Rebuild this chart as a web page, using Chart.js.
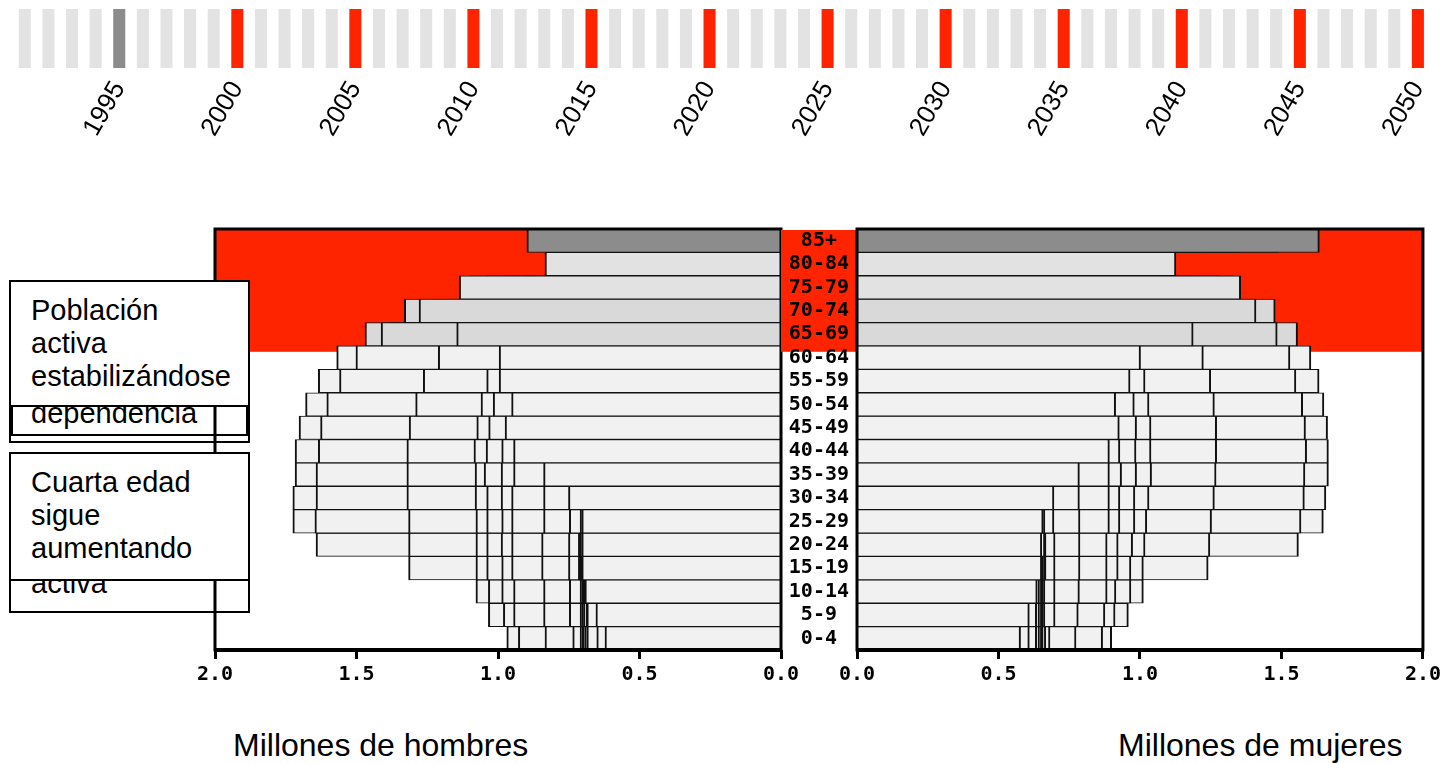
<!DOCTYPE html>
<html>
<head>
<meta charset="utf-8">
<title>Pirámide de población 2000-2050</title>
<script src="https://cdn.jsdelivr.net/npm/chart.js@4"></script>
<style>
  body { margin: 0; width: 1445px; height: 763px; overflow: hidden; background: #fff;
         font-family: 'Liberation Sans', Arial, sans-serif; position: relative; }
  canvas { position: absolute; z-index: 2; }
  .box { position: absolute; box-sizing: border-box; border: 2px solid #000; background: #fff;
         font-size: 29px; line-height: 33px; padding: 12px 8px 0 20px; color: #000; }
  .front { z-index: 3; }
  .back { z-index: 1; }
  .clear { background: transparent; }
  .axisname { position: absolute; font-size: 32px; line-height: 36px; top: 727px; color: #000; }
</style>
</head>
<body>
<canvas id="timeline" width="1445" height="150" style="left:0;top:0"></canvas>
<canvas id="men" width="631" height="471" style="left:175px;top:219px"></canvas>
<canvas id="women" width="664" height="471" style="left:781px;top:219px"></canvas>

<div class="box back" style="left:9px;top:280px;width:241px;height:163px;padding-top:115px">dependencia</div>
<div class="box back clear" style="left:11px;top:282px;width:237px;height:154px"></div>
<div class="box front" style="left:9px;top:280px;width:241px;height:127px">Población<br>activa<br>estabilizándose</div>

<div class="box back" style="left:9px;top:452px;width:241px;height:161px;padding-top:113px">activa</div>
<div class="box front" style="left:9px;top:452px;width:241px;height:129px">Cuarta edad<br>sigue<br>aumentando</div>

<div class="axisname" style="left:233px">Millones de hombres</div>
<div class="axisname" style="left:1118px">Millones de mujeres</div>

<script>
// age groups, bottom to top
const ageGroups = ['0-4', '5-9', '10-14', '15-19', '20-24', '25-29', '30-34', '35-39', '40-44',
                   '45-49', '50-54', '55-59', '60-64', '65-69', '70-74', '75-79', '80-84', '85+'];
const years = [2000, 2005, 2010, 2015, 2020, 2025, 2030, 2035, 2040, 2045, 2050];
const xTicks = [0, 0.5, 1, 1.5, 2];

// millones de hombres por grupo de edad
const men2000 = [0.969, 1.034, 1.078, 1.316, 1.643, 1.725, 1.620, 1.530, 1.420, 1.300, 1.250, 1.050, 1.020, 0.950, 0.820, 0.550, 0.330, 0.190];
const men2005 = [0.928, 0.981, 1.034, 1.078, 1.316, 1.647, 1.725, 1.600, 1.520, 1.400, 1.280, 1.220, 1.000, 0.930, 0.840, 0.680, 0.400, 0.250];
const men2010 = [0.834, 0.945, 0.987, 1.040, 1.078, 1.316, 1.643, 1.717, 1.600, 1.500, 1.380, 1.250, 1.170, 0.920, 0.820, 0.710, 0.490, 0.320];
const men2015 = [0.736, 0.839, 0.945, 0.987, 1.040, 1.078, 1.322, 1.643, 1.717, 1.580, 1.470, 1.350, 1.210, 1.100, 0.820, 0.710, 0.520, 0.380];
const men2020 = [0.710, 0.748, 0.839, 0.952, 0.989, 1.040, 1.081, 1.322, 1.635, 1.703, 1.550, 1.440, 1.310, 1.140, 0.980, 0.720, 0.530, 0.440];
const men2025 = [0.702, 0.710, 0.748, 0.846, 0.952, 0.987, 1.040, 1.081, 1.322, 1.627, 1.680, 1.520, 1.400, 1.230, 1.020, 0.860, 0.550, 0.500];
const men2030 = [0.700, 0.704, 0.710, 0.751, 0.846, 0.952, 0.989, 1.049, 1.085, 1.314, 1.605, 1.635, 1.470, 1.300, 1.100, 0.910, 0.660, 0.560];
const men2035 = [0.693, 0.698, 0.704, 0.716, 0.751, 0.839, 0.952, 0.989, 1.042, 1.075, 1.291, 1.560, 1.570, 1.380, 1.170, 0.980, 0.710, 0.650];
const men2040 = [0.686, 0.689, 0.700, 0.710, 0.716, 0.748, 0.839, 0.945, 0.987, 1.033, 1.060, 1.264, 1.502, 1.470, 1.240, 1.040, 0.760, 0.740];
const men2045 = [0.651, 0.686, 0.696, 0.706, 0.710, 0.710, 0.745, 0.835, 0.940, 0.970, 1.017, 1.040, 1.211, 1.413, 1.331, 1.100, 0.800, 0.820];
const men2050 = [0.622, 0.654, 0.693, 0.704, 0.704, 0.704, 0.751, 0.839, 0.945, 0.975, 0.952, 0.996, 0.996, 1.146, 1.279, 1.137, 0.834, 0.898];

// millones de mujeres por grupo de edad
const women2000 = [0.900, 0.959, 1.012, 1.241, 1.560, 1.648, 1.560, 1.500, 1.400, 1.300, 1.280, 1.100, 1.100, 1.080, 1.000, 0.780, 0.570, 0.450];
const women2005 = [0.868, 0.912, 0.968, 1.012, 1.247, 1.569, 1.657, 1.580, 1.500, 1.400, 1.300, 1.270, 1.080, 1.030, 1.000, 0.900, 0.660, 0.550];
const women2010 = [0.774, 0.876, 0.915, 0.968, 1.018, 1.253, 1.581, 1.666, 1.560, 1.490, 1.400, 1.290, 1.240, 1.020, 0.990, 0.930, 0.750, 0.680];
const women2015 = [0.682, 0.782, 0.884, 0.923, 0.974, 1.024, 1.263, 1.583, 1.666, 1.560, 1.490, 1.390, 1.270, 1.200, 0.980, 0.930, 0.800, 0.800];
const women2020 = [0.667, 0.700, 0.786, 0.884, 0.923, 0.982, 1.032, 1.269, 1.589, 1.663, 1.570, 1.480, 1.370, 1.240, 1.130, 0.930, 0.820, 0.920];
const women2025 = [0.658, 0.664, 0.700, 0.788, 0.884, 0.929, 0.982, 1.041, 1.271, 1.585, 1.650, 1.560, 1.460, 1.330, 1.180, 1.080, 0.830, 1.020];
const women2030 = [0.653, 0.658, 0.664, 0.700, 0.788, 0.892, 0.929, 0.988, 1.039, 1.271, 1.575, 1.633, 1.540, 1.410, 1.270, 1.140, 0.960, 1.100];
const women2035 = [0.645, 0.653, 0.658, 0.668, 0.700, 0.788, 0.892, 0.935, 0.986, 1.039, 1.263, 1.551, 1.604, 1.480, 1.340, 1.210, 1.020, 1.220];
const women2040 = [0.635, 0.645, 0.653, 0.664, 0.668, 0.696, 0.786, 0.892, 0.929, 0.988, 1.032, 1.250, 1.530, 1.557, 1.400, 1.280, 1.070, 1.350];
const women2045 = [0.609, 0.635, 0.645, 0.658, 0.664, 0.664, 0.690, 0.780, 0.885, 0.920, 0.980, 1.018, 1.224, 1.485, 1.478, 1.330, 1.100, 1.490];
const women2050 = [0.578, 0.609, 0.637, 0.653, 0.653, 0.658, 0.696, 0.786, 0.892, 0.927, 0.914, 0.965, 1.002, 1.188, 1.410, 1.356, 1.127, 1.634];

const menSeries = [men2000, men2005, men2010, men2015, men2020, men2025, men2030, men2035, men2040, men2045, men2050];
const womenSeries = [women2000, women2005, women2010, women2015, women2020, women2025, women2030, women2035, women2040, women2045, women2050];

// timeline at the top
const timelineYears = [1991, 1992, 1993, 1994, 1995, 1996, 1997, 1998, 1999, 2000,
                       2001, 2002, 2003, 2004, 2005, 2006, 2007, 2008, 2009, 2010,
                       2011, 2012, 2013, 2014, 2015, 2016, 2017, 2018, 2019, 2020,
                       2021, 2022, 2023, 2024, 2025, 2026, 2027, 2028, 2029, 2030,
                       2031, 2032, 2033, 2034, 2035, 2036, 2037, 2038, 2039, 2040,
                       2041, 2042, 2043, 2044, 2045, 2046, 2047, 2048, 2049, 2050];
const timelineValues = [1, 1, 1, 1, 1, 1, 1, 1, 1, 1, 1, 1, 1, 1, 1, 1, 1, 1, 1, 1,
                        1, 1, 1, 1, 1, 1, 1, 1, 1, 1, 1, 1, 1, 1, 1, 1, 1, 1, 1, 1,
                        1, 1, 1, 1, 1, 1, 1, 1, 1, 1, 1, 1, 1, 1, 1, 1, 1, 1, 1, 1];
const timelineShown = [2000, 2005, 2010, 2015, 2020, 2025, 2030, 2035, 2040, 2045, 2050];
const timelineStart = 1995;

const RED = '#ff2400';
const tickFont = { family: 'DejaVu Sans Mono', weight: 'bold', size: 20 };

function rowFill(i) {
  if (i === 17) return '#8c8c8c';
  if (i >= 15) return '#e2e2e2';
  if (i >= 13) return '#d9d9d9';
  return '#f1f1f1';
}

// red band behind the 65+ rows
const backdrop = {
  id: 'backdrop',
  beforeDraw(chart, args, opts) {
    const { ctx, chartArea } = chart;
    const y = chart.scales.y;
    const idx = ageGroups.indexOf(opts.from);
    const step = Math.abs(y.getPixelForValue(0) - y.getPixelForValue(1));
    const bottom = y.getPixelForValue(idx) + step * 0.75;
    const left = opts.includeAxis ? y.left : chartArea.left;
    ctx.save();
    ctx.fillStyle = RED;
    ctx.fillRect(left, chartArea.top + 1, chartArea.right - left, bottom - chartArea.top - 1);
    ctx.restore();
  }
};

const frame = {
  id: 'frame',
  afterDatasetsDraw(chart) {
    const { ctx, chartArea: a } = chart;
    ctx.save();
    ctx.strokeStyle = '#000';
    ctx.lineWidth = 3;
    ctx.strokeRect(a.left, a.top, a.right - a.left, a.bottom - a.top);
    ctx.lineWidth = 4;
    ctx.beginPath();
    ctx.moveTo(a.left - 1, a.bottom);
    ctx.lineTo(a.right + 1, a.bottom);
    ctx.stroke();
    ctx.restore();
  }
};

function pyramid(id, series, isLeft) {
  return new Chart(document.getElementById(id), {
    type: 'bar',
    data: {
      labels: ageGroups,
      datasets: series.map((values, i) => ({
        label: String(years[i]),
        data: values,
        backgroundColor: ageGroups.map((g, k) => rowFill(k)),
        borderColor: '#111',
        borderWidth: { top: 1, bottom: 1, left: 2, right: 2 },
        grouped: false,
        order: series.length - i,   // later years on top
        barPercentage: 1,
        categoryPercentage: 1
      }))
    },
    options: {
      indexAxis: 'y',
      responsive: false,
      animation: false,
      layout: { padding: isLeft ? { left: 40, right: 25, top: 10, bottom: 0 }
                                : { left: 0, right: 22, top: 10, bottom: 0 } },
      plugins: {
        legend: { display: false },
        tooltip: { enabled: false },
        backdrop: { from: '65-69', includeAxis: !isLeft }
      },
      scales: {
        x: {
          reverse: isLeft,
          min: 0,
          max: 2,
          afterBuildTicks: s => { s.ticks = xTicks.map(v => ({ value: v })); },
          afterFit: s => { s.height = 40; },
          grid: { drawOnChartArea: false, drawTicks: true, tickLength: 9, tickWidth: 3, tickColor: '#000' },
          border: { display: false },
          ticks: { padding: 4, color: '#000', font: tickFont, callback: v => Number(v).toFixed(1) }
        },
        y: {
          reverse: true,
          display: !isLeft,
          afterFit: s => {
            if (!isLeft) s.width = 76;
            s.paddingTop = 0;
            s.paddingBottom = 0;
          },
          grid: { display: false, drawTicks: false },
          border: { display: false },
          ticks: { autoSkip: false, crossAlign: 'center', padding: 8, color: '#000', font: tickFont }
        }
      }
    },
    plugins: [backdrop, frame]
  });
}

pyramid('men', menSeries, true);
pyramid('women', womenSeries, false);

new Chart(document.getElementById('timeline'), {
  type: 'bar',
  data: {
    labels: timelineYears.map(String),
    datasets: [{
      data: timelineValues,
      backgroundColor: timelineYears.map(y => y === timelineStart ? '#8c8c8c'
                                           : timelineShown.includes(y) ? RED : '#e3e3e3'),
      barPercentage: 0.51,
      categoryPercentage: 1
    }]
  },
  options: {
    responsive: false,
    animation: false,
    layout: { padding: { left: 13, right: 10, top: 9, bottom: 0 } },
    plugins: { legend: { display: false }, tooltip: { enabled: false } },
    scales: {
      y: { display: false, min: 0, max: 1 },
      x: {
        grid: { display: false },
        border: { display: false },
        afterFit: s => { s.height = 82; },
        ticks: {
          autoSkip: false, minRotation: 60, maxRotation: 60, padding: 0, color: '#000',
          font: { family: 'Liberation Sans', size: 26 },
          callback: (v, i) => timelineYears[i] % 5 === 0 ? String(timelineYears[i]) : ''
        }
      }
    }
  }
});
</script>
</body>
</html>
